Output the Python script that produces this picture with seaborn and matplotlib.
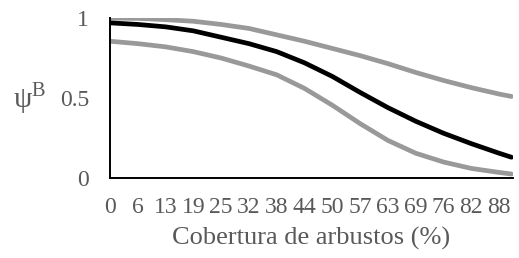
import matplotlib
matplotlib.use("Agg")
import matplotlib.pyplot as plt
import seaborn as sns
import pandas as pd

# shrub cover (%) at each category, and psi^B estimates
cover = [0, 6.3, 12.6, 18.9, 25.2, 31.5, 37.8, 44.1, 50.4, 56.7, 63.0, 69.3, 75.6, 81.9, 88.2, 91.0]
psi_mean = [0.97, 0.96, 0.945, 0.92, 0.88, 0.84, 0.79, 0.72, 0.635, 0.535, 0.44, 0.355, 0.28, 0.215, 0.155, 0.13]
psi_upper = [1.0, 0.998, 0.99, 0.98, 0.96, 0.935, 0.895, 0.855, 0.81, 0.765, 0.715, 0.66, 0.61, 0.565, 0.525, 0.51]
psi_lower = [0.855, 0.84, 0.82, 0.79, 0.75, 0.70, 0.645, 0.56, 0.455, 0.34, 0.235, 0.155, 0.10, 0.06, 0.035, 0.025]

tick_pos = [0, 6.3, 12.6, 18.9, 25.2, 31.5, 37.8, 44.1, 50.4, 56.7, 63.0, 69.3, 75.6, 81.9, 88.2]
tick_labels = ["0", "6", "13", "19", "25", "32", "38", "44", "50", "57", "63", "69", "76", "82", "88"]

df = pd.DataFrame({
    "cover": cover * 3,
    "psi": psi_upper + psi_lower + psi_mean,
    "serie": ["upper"] * len(cover) + ["lower"] * len(cover) + ["mean"] * len(cover),
})

sns.set_style("white")
plt.rcParams["font.family"] = ["Liberation Serif", "DejaVu Serif"]
plt.rcParams["mathtext.fontset"] = "custom"
plt.rcParams["mathtext.rm"] = "Liberation Serif"

text_color = "#595959"
fig = plt.figure(figsize=(5.19, 2.58), dpi=100)
ax = fig.add_axes([0.212, 0.31, 0.776, 0.62])

sns.lineplot(data=df, x="cover", y="psi", hue="serie",
             palette={"upper": "#999999", "lower": "#999999", "mean": "black"},
             linewidth=3.4, legend=False, ax=ax, solid_capstyle="round")

ax.set_xlim(0, 91.3)
ax.set_ylim(0, 1)
ax.set_xticks(tick_pos)
ax.set_xticklabels(tick_labels)
ax.set_yticks([0, 0.5, 1])
ax.set_yticklabels(["0", "0.5", "1"])
ax.tick_params(length=0, labelsize=17, labelcolor=text_color)
ax.tick_params(axis="y", pad=15)
ax.tick_params(axis="x", pad=14)

sns.despine(ax=ax)
for side in ["left", "bottom"]:
    ax.spines[side].set_color("black")
    ax.spines[side].set_linewidth(1.4)

ax.set_xlabel("Cobertura de arbustos (%)", fontsize=19, color=text_color, labelpad=6)
ax.set_ylabel(r"ψ$^{\mathrm{B}}$", fontsize=21, color=text_color, rotation=0, labelpad=0)
ax.yaxis.set_label_coords(-0.2, 0.39)

fig.savefig("out.png", dpi=100)
plt.close(fig)
